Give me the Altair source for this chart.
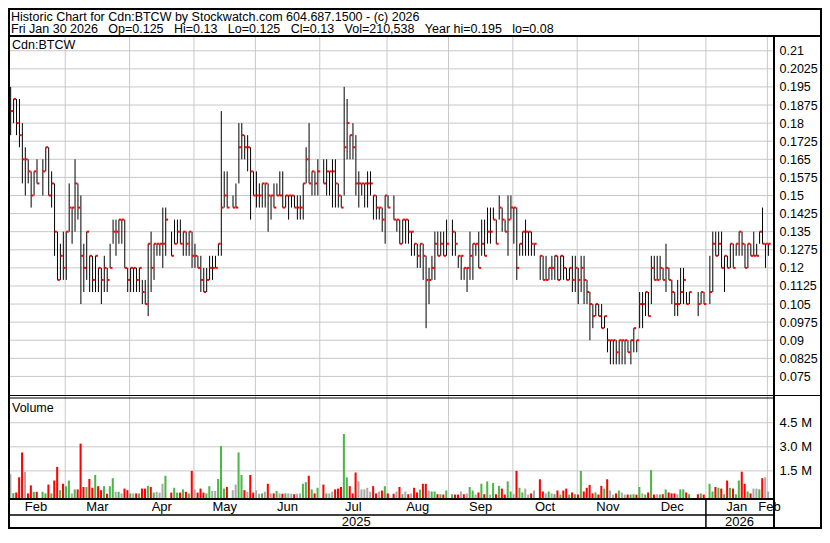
import altair as alt
import numpy as np
import pandas as pd

# ---------------- data ----------------
FIRST_DAY = "2025-02-03"
LAST_DAY = "2026-01-30"

HIGH = [
    .195, .19, .19, .19, .18, .17, .165, .16, .16, .165, None, .165, .17, .17, .16, .155, .135, .13, .135, .135,
    .155, .145, .165, .155, .15, .13, .135, .125, .125, .125, .12, .12, .125, .12, .13, .14, .14, .14, .14, .14, .12,
    .12, .12, .12, .12, .115, .115, .13, .135, .13, .13, .13, .145, .145, None, .135, .14, .14, .14, .135, .135, .135, .135,
    .13, .125, .125, .12, .12, .125, .125, .125, .13, .185, .16, .16, None, .15, .155, .18, .18, .175, .175, .17, .16, .16,
    .155, .155, .155, .155, .15, .155, .155, .16, .16, .15, .15, .15, .15, .15, .15, .155, .17, .18, .16, .16, .165,
    None, .165, .165, .16, .165, .165, .155, .15, .195, .19, .175, .18, .175, .16, .155, .155, .16, .16, .15, .15, .145, .145, .15,
    .15, None, .15, .14, .14, .14, .14, .14, .135, .13, .13, .13, .13, .125, .12, .125, .135, .135, .135, .135, .14,
    None, .14, .135, .125, .125, .12, .12, .135, .13, .13, .135, .14, .14, .145, .145, .145, .14, .15, .145, .14, .15, .15,
    .145, .145, .13, .135, .14, .135, .135, .13, None, .125, .125, .125, .12, .125, .125, .125, .125, .125, .12, .12, .125, .125, .12,
    .125, .125, .115, .11, .105, .105, .105, .105, .10, .095, .09, .09, .09, .09, .09, .09, .09, .09, .095, .09,
    .11, .11, .11, .11, .125, .125, .125, .125, .12, .13, .12, .115, .11, .115, .12, .12, .11, .11, None, None, .11, .11, .11,
    None, .125, .135, .135, .135, .135, .125, .125, .13, .13, .13, .135, .135, .13, .13, .13, .135, .13, .135, .145, .13, .13,
]
LOW = [
    .175, .18, .175, .17, .155, .15, .155, .145, .15, .155, None, .15, .16, .15, .145, .125, .115, .115, .115, .115,
    .135, .13, .135, .14, .105, .11, .115, .11, .11, .11, .11, .105, .11, .11, .12, .13, .125, .13, .13, .12, .11,
    .11, .11, .11, .11, .105, .105, .10, .11, .115, .125, .125, .12, .125, None, .125, .13, .13, .13, .125, .125, .125, .12,
    .12, .12, .11, .11, .11, .115, .115, .12, .125, .125, .145, .145, None, .145, .145, .155, .165, .165, .16, .14, .15, .145,
    .145, .145, .145, .135, .14, .145, .15, .15, .145, .145, .14, .145, .145, .14, .14, .14, .155, .155, .15, .15, .15,
    None, .155, .15, .15, .145, .145, .145, .145, .15, .165, .165, .165, .15, .145, .15, .145, .145, .15, .14, .14, .14, .135, .13,
    .145, None, .14, .135, .13, .13, .13, .13, .125, .125, .12, .12, .115, .095, .105, .115, .115, .125, .125, .125, .125,
    None, .125, .125, .12, .115, .115, .11, .115, .115, .125, .12, .125, .125, .13, .13, .14, .13, .14, .135, .135, .125, .14,
    .13, .115, .125, .125, .125, .125, .125, .125, None, .115, .115, .115, .115, .115, .115, .115, .115, .115, .115, .115, .11, .11, .105,
    .11, .105, .105, .09, .095, .10, .10, .095, .095, .085, .08, .08, .08, .08, .08, .08, .085, .08, .085, .085,
    .095, .095, .10, .10, .105, .115, .115, .115, .115, .11, .115, .105, .10, .10, .105, .105, .105, .105, None, None, .10, .105, .105,
    None, .105, .11, .125, .125, .12, .11, .12, .12, .12, .125, .125, .125, .12, .12, .125, .125, .125, .13, .13, .12, .125,
]
CLOSE = [
    .185, .19, .18, .175, .165, .165, .16, .15, .16, .155, None, .16, .17, .15, .155, .135, .115, .125, .12, .135,
    .145, .145, .155, .145, .125, .12, .135, .125, .115, .125, .12, .115, .12, .115, .12, .135, .135, .14, .14, .12, .115,
    .12, .12, .115, .12, .11, .105, .13, .12, .13, .13, .13, .13, .14, None, .125, .13, .135, .13, .135, .13, .135, .125,
    .125, .12, .115, .11, .115, .12, .12, .12, .13, .145, .15, .145, None, .145, .145, .17, .175, .17, .17, .16, .15, .15,
    .15, .155, .155, .15, .15, .145, .15, .15, .145, .15, .15, .15, .145, .145, .145, .155, .165, .155, .16, .155, .16,
    None, .155, .16, .16, .16, .155, .15, .145, .17, .18, .175, .17, .155, .155, .155, .155, .155, .155, .15, .145, .145, .14, .15,
    .145, None, .14, .14, .13, .14, .14, .135, .135, .13, .125, .13, .125, .115, .115, .12, .13, .125, .13, .125, .13,
    None, .135, .13, .125, .125, .12, .12, .125, .13, .13, .12, .13, .125, .135, .135, .14, .13, .145, .14, .135, .14, .145,
    .145, .12, .13, .135, .135, .135, .13, .13, None, .125, .115, .115, .12, .12, .125, .115, .125, .12, .115, .12, .115, .12, .115,
    .12, .115, .11, .105, .10, .105, .10, .095, .10, .09, .09, .09, .085, .09, .09, .09, .085, .09, .095, .09,
    .105, .105, .11, .10, .12, .115, .115, .12, .115, .12, .115, .11, .105, .105, .11, .115, .105, .11, None, None, .105, .11, .105,
    None, .11, .13, .125, .13, .12, .125, .12, .13, .12, .13, .135, .13, .12, .13, .125, .125, .125, .135, .13, .13, .13,
]
VOLUME_M = [
    1.3, .12, .15, 1.1, 2.65, 1.45, .1, .6, .2, .2, None, .2, .1, .65, .1, .9, 1.75, .3, .7, .55,
    .9, .1, .35, .35, 3.2, .5, .5, 1.0, .45, 1.25, .55, .3, .55, .08, .55, 1.05, .2, .2, .1, .4, .3,
    .1, .1, .1, .1, .4, .4, .57, .5, .15, .2, .15, .7, 1.2, None, .15, .45, .15, .15, .35, .2, .1, 1.5,
    .35, .15, .4, .15, .1, .55, .25, .25, 1.0, 3.05, .4, .5, None, .3, .65, 2.65, 1.25, .3, .2, 1.25, .15, .3,
    .08, .1, .2, .7, .1, .1, .25, .1, .08, .1, .1, .08, .05, .08, .1, .7, .8, 1.2, .35, .1, .45,
    None, .65, .1, .1, .2, .35, .4, .5, 3.8, 1.1, .55, .1, 1.4, .85, .35, .35, .45, .2, .55, .1, .22, .28, .55,
    .1, None, .08, .22, .5, .05, .22, .05, .1, .45, .16, .34, .7, .7, .28, .22, .22, .05, .05, .03, .28,
    None, .05, .03, .03, .22, .05, .1, .5, .28, .03, .16, .7, .05, .85, .03, .75, .05, .57, .4, .03, .85, .22,
    .05, 1.5, .45, .16, .4, .03, .1, .28, None, .98, .22, .1, .22, .1, .05, .28, .03, .28, .4, .03, .16, .05, .03,
    1.5, .22, .45, .63, .1, .16, .03, .57, .4, .98, .28, .03, .1, .28, .16, .03, .03, .03, .05, .02,
    .5, .1, .03, .16, 1.55, .03, .05, .03, .05, .35, .16, .1, .1, .05, .35, .35, .16, .05, None, None, .05, .1, .03,
    None, .7, .22, .5, .45, .4, .05, .9, .45, .4, .05, .9, 1.45, .7, .22, .1, .4, .4, .35, 1.05, 1.1, .21,
]

PRICE_TICKS = [0.075, 0.0825, 0.09, 0.0975, 0.105, 0.1125, 0.12, 0.1275, 0.135, 0.1425,
               0.15, 0.1575, 0.165, 0.1725, 0.18, 0.1875, 0.195, 0.2025, 0.21]
VOLUME_TICKS = [1.5, 3.0, 4.5]

HEADER_1 = "Historic Chart for Cdn:BTCW by Stockwatch.com 604.687.1500 - (c) 2026"
HEADER_2 = "\u00a0\u00a0\u00a0".join(["Fri Jan 30 2026", "Op=0.125", "Hi=0.13", "Lo=0.125", "Cl=0.13",
                                     "Vol=210,538", "Year hi=0.195", "lo=0.08"])
SYMBOL = "Cdn:BTCW"
VOLUME_LABEL = "Volume"

# ---------------- layout ----------------
FONT = "Liberation Sans"
W, H = 814, 521
PLOT_R = 765
X_DOMAIN = [-0.913, 260.58]
PRICE_DOMAIN = [0.0673, 0.2157]
PRICE_RANGE = [387, 29]
VOL_DOMAIN = [-0.186, 5.977]
VOL_RANGE = [490, 391]
RED, GREEN, GRAY, GRID = "#FF0000", "#4CB648", "#A9A9A9", "#C8C8C8"

dates = pd.bdate_range(FIRST_DAY, LAST_DAY)
df = pd.DataFrame({"i": np.arange(len(dates)), "high": HIGH, "low": LOW,
                   "close": CLOSE, "vol": VOLUME_M}).dropna().reset_index(drop=True)
diff = (df["close"] - df["close"].shift(1)).round(6)
df["dir"] = np.where(diff > 0, "up", np.where(diff < 0, "down", "flat"))
df["tick_end"] = df["i"] + 0.8
df["vx0"] = df["i"] - 0.45
df["vx1"] = df["i"] + 0.25

month_firsts = pd.date_range("2025-02-01", "2026-02-01", freq="MS")
bounds = np.searchsorted(dates.values, month_firsts.values, side="right") - 1 - 0.35
grid_df = pd.DataFrame({"g": bounds[1:]})
centers = list((bounds[:-1] + bounds[1:]) / 2) + [bounds[-1] + 0.75]
month_df = pd.DataFrame({"c": centers, "m": list(month_firsts.strftime("%b"))})
jan = bounds[11]
year_df = pd.DataFrame({"c": [(bounds[0] + jan) / 2, (jan + X_DOMAIN[1]) / 2],
                        "y": [str(month_firsts[0].year), str(month_firsts[11].year)]})

xs = alt.Scale(domain=X_DOMAIN, range=[0, PLOT_R], nice=False, zero=False)
ps = alt.Scale(domain=PRICE_DOMAIN, range=PRICE_RANGE, nice=False, zero=False)
vs = alt.Scale(domain=VOL_DOMAIN, range=VOL_RANGE, nice=False, zero=False)
one = pd.DataFrame({"a": [0]})


def hline(y, x1, x2, w=1.0, color="black"):
    return alt.Chart(one).mark_rule(color=color, strokeWidth=w).encode(
        x=alt.value(x1), x2=alt.value(x2), y=alt.value(y))


def vline(x, y1, y2, w=1.0, color="black"):
    return alt.Chart(one).mark_rule(color=color, strokeWidth=w).encode(
        x=alt.value(x), y=alt.value(y1), y2=alt.value(y2))


def label(text, x, y, size, align="left"):
    return alt.Chart(pd.DataFrame({"t": [text]})).mark_text(
        align=align, baseline="middle", font=FONT, fontSize=size, color="black"
    ).encode(x=alt.value(x), y=alt.value(y), text="t:N")


axis_common = dict(orient="right", offset=PLOT_R + 1 - W, domain=False, ticks=False, tickSize=0,
                   grid=False, labelPadding=5, labelFont=FONT, labelColor="black",
                   labelOverlap=False, title=None)

price_grid = alt.Chart(pd.DataFrame({"p": PRICE_TICKS})).mark_rule(color=GRID, strokeWidth=1).encode(
    y=alt.Y("p:Q", scale=ps, axis=None), x=alt.value(0), x2=alt.value(PLOT_R))
vol_grid = alt.Chart(pd.DataFrame({"v": VOLUME_TICKS})).mark_rule(color=GRID, strokeWidth=1).encode(
    y=alt.Y("v:Q", scale=vs, axis=None), x=alt.value(0), x2=alt.value(PLOT_R))
month_grid = alt.Chart(grid_df).mark_rule(color=GRID, strokeWidth=1).encode(
    x=alt.X("g:Q", scale=xs, axis=None), y=alt.value(29), y2=alt.value(490))

vol_bars = alt.Chart(df).mark_bar().encode(
    x=alt.X("vx0:Q", scale=xs, axis=None), x2="vx1:Q",
    y=alt.Y("vol:Q", scale=vs, axis=alt.Axis(values=VOLUME_TICKS, labelFontSize=13,
            labelExpr="format(datum.value, '.1f') + ' M'", **axis_common)),
    y2=alt.value(490),
    color=alt.Color("dir:N", scale=alt.Scale(domain=["up", "down", "flat"], range=[GREEN, RED, GRAY]),
                    legend=None))

hl = alt.Chart(df).mark_rule(color="black", strokeWidth=1).encode(
    x=alt.X("i:Q", scale=xs, axis=None),
    y=alt.Y("high:Q", scale=ps, axis=alt.Axis(values=PRICE_TICKS, labelFontSize=12.5,
            labelExpr="format(datum.value, '.4~f')", **axis_common)),
    y2="low:Q")
close_ticks = alt.Chart(df).mark_rule(color=RED, strokeWidth=2).encode(
    x=alt.X("i:Q", scale=xs, axis=None), x2="tick_end:Q",
    y=alt.Y("close:Q", scale=ps, axis=None))

month_text = alt.Chart(month_df).mark_text(align="center", baseline="middle", font=FONT, fontSize=13,
                                           color="black").encode(
    x=alt.X("c:Q", scale=xs, axis=None), y=alt.value(499), text="m:N")
year_text = alt.Chart(year_df).mark_text(align="center", baseline="middle", font=FONT, fontSize=13,
                                         color="black").encode(
    x=alt.X("c:Q", scale=xs, axis=None), y=alt.value(514), text="y:N")
year_div = alt.Chart(pd.DataFrame({"g": [jan]})).mark_rule(color="black", strokeWidth=1.5).encode(
    x=alt.X("g:Q", scale=xs, axis=None), y=alt.value(491), y2=alt.value(521))

frame = [
    hline(1, 0, W, 2), hline(520, 0, W, 2), vline(1, 0, H, 2), vline(W - 1, 0, H, 2),
    hline(28, 0, W, 2),
    vline(PLOT_R + 1, 28, H, 2),
    hline(387.5, 0, W, 1), hline(390, 0, PLOT_R, 1),
    hline(491, 0, PLOT_R + 1, 2),
    hline(507, 0, PLOT_R + 1, 1.5),
]

texts = [
    label(HEADER_1, 3, 8.5, 12.5),
    label(HEADER_2, 3, 21, 12.5),
    label(SYMBOL, 4, 37, 12.5),
    label(VOLUME_LABEL, 4, 400, 12.5),
]

chart = alt.layer(
    price_grid, vol_grid, month_grid, vol_bars, hl, close_ticks,
    *frame, year_div, month_text, year_text, *texts
).resolve_scale(y="independent").resolve_axis(y="independent").properties(
    width=W, height=H, autosize=alt.AutoSizeParams(type="none"), padding=0, background="white"
).configure_view(stroke=None)

chart.save("out.html", embed_options={"renderer": "svg", "actions": False})
